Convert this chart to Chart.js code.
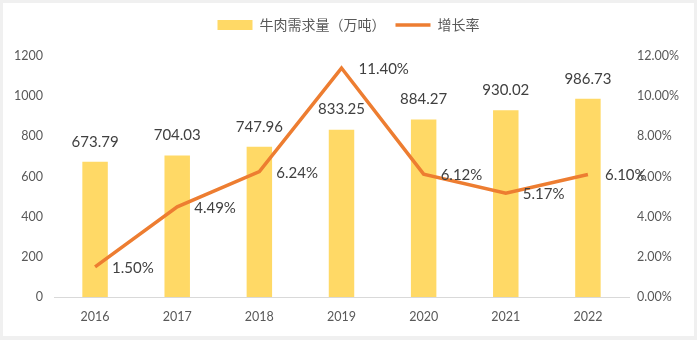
<!DOCTYPE html>
<html lang="zh">
<head>
<meta charset="UTF-8">
<title>牛肉需求量</title>
<style type="text/css">
    body { margin: 0; background: #f0f0f0; }
    .chartBox { width: 697px; height: 340px; }
</style>
</head>
<body>
<div class="chartBox">
    <canvas id="myChart"></canvas>
</div>

<script src="https://cdn.jsdelivr.net/npm/chart.js"></script>
<script>
// data
const years = ['2016', '2017', '2018', '2019', '2020', '2021', '2022'];
const demand = [673.79, 704.03, 747.96, 833.25, 884.27, 930.02, 986.73];
const growth = [1.50, 4.49, 6.24, 11.40, 6.12, 5.17, 6.10];
const leftTicks = [0, 200, 400, 600, 800, 1000, 1200];
const rightTicks = [0, 2, 4, 6, 8, 10, 12];

const numFont = 'Lato, "Noto Sans CJK SC", sans-serif';
const cjkFont = '"Noto Sans CJK SC", sans-serif';

// gray frame with white panel
const panel = {
    id: 'panel',
    beforeDraw(chart) {
        const c = chart.ctx;
        c.save();
        c.fillStyle = '#f0f0f0';
        c.fillRect(0, 0, chart.width, chart.height);
        c.fillStyle = '#ffffff';
        c.fillRect(3, 3, chart.width - 6, chart.height - 7);
        c.restore();
    }
};

// leave some room under the legend
const legendGap = {
    id: 'legendGap',
    beforeUpdate(chart) {
        const lg = chart.legend;
        if (lg && !lg._gapPatched) {
            const fit = lg.fit.bind(lg);
            lg.fit = function () {
                fit();
                this.height += 14;
            };
            lg._gapPatched = true;
        }
    }
};

// value labels above bars and beside line points
const valueLabels = {
    id: 'valueLabels',
    afterDatasetsDraw(chart) {
        const c = chart.ctx;
        c.save();
        c.font = '15px ' + numFont;
        c.fillStyle = '#404040';
        c.textBaseline = 'middle';
        chart.getDatasetMeta(0).data.forEach((bar, i) => {
            c.textAlign = 'center';
            c.fillText(demand[i].toFixed(2), bar.x, bar.y - 20);
        });
        chart.getDatasetMeta(1).data.forEach((pt, i) => {
            c.textAlign = 'left';
            c.fillText(growth[i].toFixed(2) + '%', pt.x + 17, pt.y + 1);
        });
        c.restore();
    }
};

const data = {
    labels: years,
    datasets: [{
        type: 'bar',
        label: '牛肉需求量（万吨）',
        data: demand,
        backgroundColor: '#FFD966',
        yAxisID: 'y',
        order: 1,
        categoryPercentage: 1,
        barPercentage: 0.31
    }, {
        type: 'line',
        label: '增长率',
        data: growth,
        borderColor: '#ED7D31',
        backgroundColor: '#ED7D31',
        borderWidth: 3.5,
        pointRadius: 0,
        tension: 0,
        yAxisID: 'y1',
        order: 0
    }]
};

const config = {
    data,
    options: {
        responsive: true,
        maintainAspectRatio: false,
        animation: false,
        layout: { padding: { top: 8, bottom: 8, left: 0, right: 0 } },
        plugins: {
            tooltip: { enabled: false },
            legend: {
                position: 'top',
                labels: {
                    font: { family: cjkFont, size: 14 },
                    color: '#595959',
                    usePointStyle: true,
                    pointStyleWidth: 35,
                    boxHeight: 10,
                    padding: 10,
                    generateLabels(chart) {
                        return chart.data.datasets.map((ds, i) => ({
                            text: ds.label,
                            datasetIndex: i,
                            fillStyle: ds.backgroundColor,
                            strokeStyle: ds.type === 'line' ? ds.borderColor : ds.backgroundColor,
                            lineWidth: ds.type === 'line' ? 3.5 : 0,
                            pointStyle: ds.type === 'line' ? 'line' : 'rect',
                            fontColor: '#595959',
                            hidden: false
                        }));
                    }
                }
            }
        },
        scales: {
            x: {
                grid: { display: false, drawTicks: false },
                border: { display: true, color: '#d9d9d9', width: 1 },
                ticks: { color: '#595959', font: { family: numFont, size: 12.5 }, padding: 12 },
                afterFit(scale) { scale.height = 35; }
            },
            y: {
                position: 'left',
                min: 0,
                max: 1200,
                grid: { display: false, drawTicks: false },
                border: { display: false },
                afterBuildTicks(scale) { scale.ticks = leftTicks.map(v => ({ value: v })); },
                ticks: {
                    color: '#595959',
                    font: { family: numFont, size: 12.5 },
                    padding: 11,
                    callback: v => String(v)
                },
                afterFit(scale) { scale.width = 54; }
            },
            y1: {
                position: 'right',
                min: 0,
                max: 12,
                grid: { display: false, drawTicks: false },
                border: { display: false },
                afterBuildTicks(scale) { scale.ticks = rightTicks.map(v => ({ value: v })); },
                ticks: {
                    color: '#595959',
                    font: { family: numFont, size: 12.5 },
                    padding: 8,
                    callback: v => v.toFixed(2) + '%'
                },
                afterFit(scale) { scale.width = 68; }
            }
        }
    },
    plugins: [panel, legendGap, valueLabels]
};

const myChart = new Chart(document.getElementById('myChart'), config);
</script>
</body>
</html>
